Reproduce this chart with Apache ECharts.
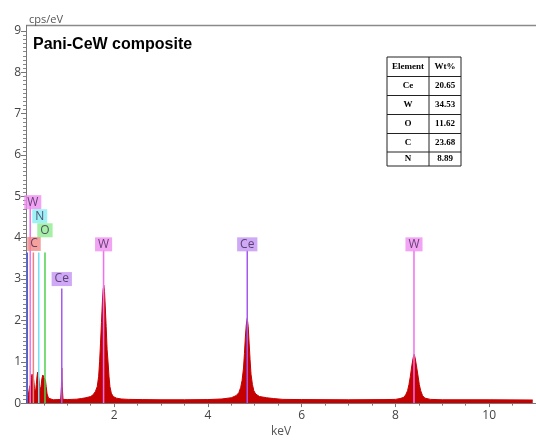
<!DOCTYPE html>
<html><head><meta charset="utf-8">
<script src="https://cdn.jsdelivr.net/npm/echarts@6/dist/echarts.min.js"></script>
<style>html,body{margin:0;padding:0;background:#fff}#c{width:536px;height:443px}</style>
</head><body><div id="c"></div>
<script>
// ---- data ----
const spectrumKeV = [0.13,0.15,0.17,0.19,0.20,0.21,0.22,0.235,0.25,0.26,0.27,0.28,0.29,0.30,0.32,0.34,0.355,0.37,0.38,0.39,0.40,0.42,0.44,0.46,0.48,0.50,0.52,0.535,0.55,0.57,0.60,0.63,0.70,0.80,0.86,0.875,0.883,0.892,0.91,1.00,1.10,1.20,1.30,1.40,1.50,1.55,1.60,1.64,1.67,1.69,1.71,1.73,1.75,1.765,1.78,1.795,1.81,1.83,1.85,1.87,1.89,1.91,1.94,1.98,2.05,2.15,2.30,2.60,3.00,3.50,4.00,4.30,4.50,4.60,4.66,4.70,4.73,4.76,4.78,4.80,4.82,4.84,4.86,4.88,4.90,4.92,4.95,4.98,5.02,5.10,5.25,5.40,5.60,6.00,7.00,7.80,8.00,8.10,8.18,8.22,8.26,8.29,8.32,8.35,8.38,8.40,8.42,8.45,8.48,8.51,8.54,8.58,8.63,8.75,9.00,10.00,10.93];
const spectrumCps = [0.05,0.10,0.20,0.35,0.42,0.30,0.45,0.62,0.70,0.55,0.68,0.70,0.50,0.35,0.25,0.45,0.65,0.75,0.70,0.74,0.55,0.30,0.40,0.60,0.68,0.62,0.66,0.55,0.40,0.22,0.12,0.09,0.08,0.085,0.09,0.40,0.85,0.40,0.09,0.085,0.09,0.095,0.11,0.13,0.16,0.20,0.28,0.40,0.65,1.00,1.45,1.95,2.45,2.75,2.85,2.70,2.35,1.85,1.30,1.00,0.65,0.40,0.24,0.16,0.12,0.10,0.09,0.085,0.08,0.08,0.085,0.10,0.13,0.18,0.25,0.38,0.55,0.85,1.20,1.60,1.90,2.05,1.85,1.45,1.05,0.70,0.45,0.30,0.22,0.16,0.13,0.11,0.09,0.085,0.08,0.085,0.09,0.11,0.14,0.20,0.30,0.45,0.65,0.90,1.10,1.18,1.10,0.90,0.68,0.45,0.30,0.18,0.12,0.09,0.08,0.08,0.075];

const markerNames = ['', 'W', 'C', 'N', 'O', 'Ce', 'W', 'Ce', 'W'];
const markerKeV   = [0.147, 0.21, 0.277, 0.392, 0.525, 0.883, 1.775, 4.84, 8.397];
const markerTop   = [3.64, 4.78, 3.64, 3.64, 3.64, 2.77, 3.69, 3.69, 3.69];
const labelKeV    = [null, 0.264, 0.29, 0.413, 0.524, 0.883, 1.775, 4.84, 8.397];
const labelCps    = [null, 4.86, 3.85, 4.52, 4.18, 3.0, 3.84, 3.84, 3.84];

const xTickValues = [2, 4, 6, 8, 10];
const xMinorTickValues = [0.5,1,1.5,2.5,3,3.5,4.5,5,5.5,6.5,7,7.5,8.5,9,9.5,10.5];
const yTickValues = [0,1,2,3,4,5,6,7,8,9];

const tableHeader = ['Element', 'Wt%'];
const tableElements = ['Ce', 'W', 'O', 'C', 'N'];
const tableWt = ['20.65', '34.53', '11.62', '23.68', '8.89'];

const chartTitle = 'Pani-CeW composite';
const yUnit = 'cps/eV';
const xUnit = 'keV';

// ---- styles ----
const elemStyle = {
  '':  {line: '#4a62d8', box: 'transparent'},
  W:  {line: '#f070f0', box: '#f08cf0'},
  C:  {line: '#f08080', box: '#f28a84'},
  N:  {line: '#6ee4ee', box: '#86eef2'},
  O:  {line: '#4fd04f', box: '#8eec8e'},
  Ce: {line: '#a458f0', box: '#c394f2'}
};
const FONT = '"Open Sans", "DejaVu Sans", sans-serif';

const chart = echarts.init(document.getElementById('c'), null, {renderer: 'canvas'});

const series = [{
  type: 'line',
  data: spectrumKeV.map((k, i) => [k, spectrumCps[i]]),
  showSymbol: false,
  symbol: 'none',
  lineStyle: {color: '#c40000', width: 1},
  areaStyle: {color: '#c40000', opacity: 1},
  z: 2,
  animation: false
}];

markerKeV.forEach((k, i) => {
  series.push({
    type: 'line',
    data: [[k, 0], [k, markerTop[i]]],
    showSymbol: false,
    symbol: 'none',
    lineStyle: {color: elemStyle[markerNames[i]].line, width: 1.5},
    z: 3,
    animation: false
  });
});

const labelData = [];
markerNames.forEach((n, i) => {
  if (!n) return;
  labelData.push({
    value: [labelKeV[i], labelCps[i]],
    label: {
      show: true, position: 'inside', formatter: n,
      backgroundColor: elemStyle[n].box,
      padding: [1, 3, 0, 3], color: '#3e2a55',
      fontSize: 12, lineHeight: 13, fontFamily: FONT
    }
  });
});
series.push({
  type: 'scatter',
  symbol: 'circle',
  symbolSize: 2,
  itemStyle: {color: 'rgba(0,0,0,0)'},
  z: 5,
  animation: false,
  label: {show: true, position: 'inside'},
  labelLayout: {hideOverlap: false},
  data: labelData
});

// table graphics
const tL = 387, tR = 461, tS = 429;
const rowY = [57, 76.5, 95.5, 114.5, 133.5, 152, 166];
const graphics = [];
graphics.push({type: 'rect', shape: {x: tL, y: rowY[0], width: tR - tL, height: rowY[6] - rowY[0]},
  style: {fill: '#fff', stroke: '#222', lineWidth: 1}, z: 10});
graphics.push({type: 'line', shape: {x1: tS, y1: rowY[0], x2: tS, y2: rowY[6]}, style: {stroke: '#222', lineWidth: 1}, z: 11});
for (let r = 1; r < 6; r++) {
  graphics.push({type: 'line', shape: {x1: tL, y1: rowY[r], x2: tR, y2: rowY[r]}, style: {stroke: '#222', lineWidth: 1}, z: 11});
}
const cellTexts = [tableHeader].concat(tableElements.map((e, i) => [e, tableWt[i]]));
cellTexts.forEach((row, r) => {
  const cy = (rowY[r] + rowY[r + 1]) / 2;
  graphics.push({type: 'text', z: 12, style: {text: row[0], x: (tL + tS) / 2, y: cy,
    textAlign: 'center', textVerticalAlign: 'middle', font: 'bold 9px "Liberation Serif", serif', fill: '#000'}});
  graphics.push({type: 'text', z: 12, style: {text: row[1], x: (tS + tR) / 2, y: cy,
    textAlign: 'center', textVerticalAlign: 'middle', font: 'bold 9px "Liberation Serif", serif', fill: '#000'}});
});
// frame top and axis extension
graphics.push({type: 'line', shape: {x1: 26, y1: 25.5, x2: 536, y2: 25.5}, style: {stroke: '#8a8a8a', lineWidth: 1.5}, z: 1});
graphics.push({type: 'line', shape: {x1: 26.5, y1: 25, x2: 26.5, y2: 32}, style: {stroke: '#777', lineWidth: 1}, z: 1});
// unit & title
graphics.push({type: 'text', z: 12, style: {text: yUnit, x: 29, y: 20, textAlign: 'left', textVerticalAlign: 'middle',
  font: '11px ' + FONT, fill: '#555'}});
graphics.push({type: 'text', z: 12, style: {text: chartTitle, x: 33, y: 45, textAlign: 'left', textVerticalAlign: 'middle',
  font: 'bold 16px "Liberation Sans", Arial, sans-serif', fill: '#000'}});

const option = {
  animation: false,
  backgroundColor: '#fff',
  grid: {left: 26, right: 0, top: 31, bottom: 31, containLabel: false},
  xAxis: [{
    type: 'value', min: 0.12, max: 11, position: 'bottom',
    name: xUnit, nameLocation: 'middle', nameGap: 19,
    nameTextStyle: {color: '#555', fontSize: 12, fontFamily: FONT},
    axisLine: {show: true, onZero: false, lineStyle: {color: '#777', width: 1}},
    axisTick: {show: true, customValues: xTickValues, length: 4, lineStyle: {color: '#777'}},
    axisLabel: {show: true, customValues: xTickValues, margin: 6, color: '#444', fontSize: 12, fontFamily: FONT},
    splitLine: {show: false}
  }, {
    type: 'value', min: 0.12, max: 11, position: 'bottom', offset: 0,
    axisLine: {show: false},
    axisTick: {show: true, customValues: xMinorTickValues, length: 2.5, lineStyle: {color: '#777'}},
    axisLabel: {show: false},
    splitLine: {show: false}
  }],
  yAxis: {
    type: 'value', min: 0, max: 9, interval: 1,
    axisLine: {show: true, onZero: false, lineStyle: {color: '#777', width: 1}},
    axisTick: {show: true, length: 5, lineStyle: {color: '#777'}},
    minorTick: {show: true, splitNumber: 10, length: 3, lineStyle: {color: '#888'}},
    axisLabel: {show: true, margin: 5, color: '#444', fontSize: 12, fontFamily: FONT},
    splitLine: {show: false},
    minorSplitLine: {show: false}
  },
  graphic: graphics,
  series: series
};
chart.setOption(option);
</script></body></html>
